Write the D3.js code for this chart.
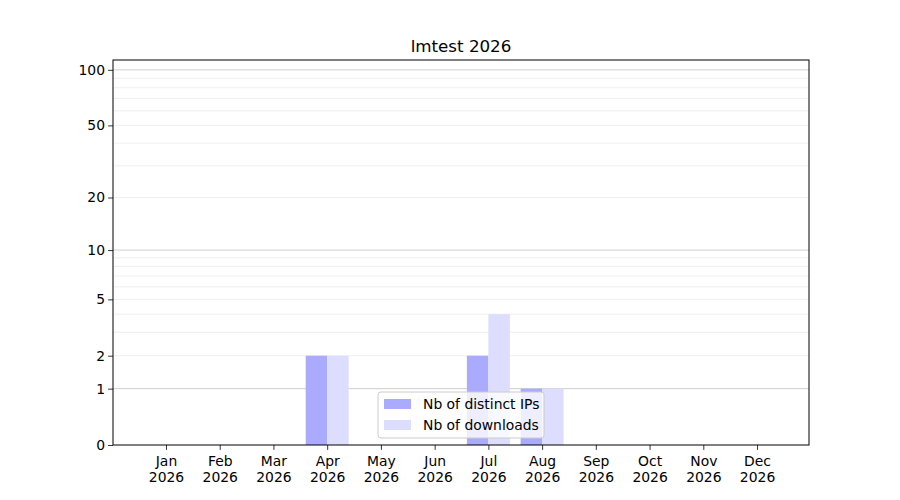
<!DOCTYPE html>
<html>
<head>
<meta charset="utf-8">
<script src="https://cdn.jsdelivr.net/npm/d3@7"></script>
<style>
  body { margin: 0; background: #fff; }
  svg text { font-family: 'DejaVu Sans', sans-serif; }
</style>
</head>
<body>
<div id="chart"></div>
<script>
// Monthly stats, symlog y axis (log1p)
var months = ['Jan', 'Feb', 'Mar', 'Apr', 'May', 'Jun', 'Jul', 'Aug', 'Sep', 'Oct', 'Nov', 'Dec'];
var year = '2026';
var distinctIPs = [0, 0, 0, 2, 0, 0, 2, 1, 0, 0, 0, 0];
var downloads   = [0, 0, 0, 2, 0, 0, 4, 1, 0, 0, 0, 0];
var yTickValues = [0, 1, 2, 5, 10, 20, 50, 100];
var majorGrid = [1, 10, 100];
var minorGrid = [2, 3, 4, 5, 6, 7, 8, 9, 20, 30, 40, 50, 60, 70, 80, 90];
var seriesNames = ['Nb of distinct IPs', 'Nb of downloads'];
var seriesColors = ['#aaaaff', '#ddddff'];
var title = 'lmtest 2026';

(function () {
    var W = 900, H = 500;
    var margin = { top: 60, right: 91, bottom: 55, left: 113 };
    var innerW = W - margin.left - margin.right;
    var innerH = H - margin.top - margin.bottom;
    var fs = 13.9;

    var svg = d3.select('#chart').append('svg')
        .attr('width', W).attr('height', H);

    var g = svg.append('g')
        .attr('transform', 'translate(' + margin.left + ',' + margin.top + ')');

    var x = d3.scaleLinear().domain([-0.986, 11.967]).range([0, innerW]);
    var y = d3.scaleSymlog().constant(1).domain([0, 113]).range([innerH, 0]);
    var step = x(1) - x(0);
    var bw = step * 0.4;

    // gridlines
    g.append('g').selectAll('line').data(minorGrid).join('line')
        .attr('x1', 0).attr('x2', innerW)
        .attr('y1', function (d) { return y(d); })
        .attr('y2', function (d) { return y(d); })
        .attr('stroke', '#ebebeb').attr('stroke-width', 0.8);
    g.append('g').selectAll('line').data(majorGrid).join('line')
        .attr('x1', 0).attr('x2', innerW)
        .attr('y1', function (d) { return y(d); })
        .attr('y2', function (d) { return y(d); })
        .attr('stroke', '#cfcfcf').attr('stroke-width', 1);

    // bars
    var idx = d3.range(months.length);
    g.append('g').selectAll('rect').data(idx.filter(function (i) { return distinctIPs[i] > 0; }))
        .join('rect')
        .attr('x', function (i) { return x(i) - bw; })
        .attr('width', bw)
        .attr('y', function (i) { return y(distinctIPs[i]); })
        .attr('height', function (i) { return y(0) - y(distinctIPs[i]); })
        .attr('fill', seriesColors[0]);
    g.append('g').selectAll('rect').data(idx.filter(function (i) { return downloads[i] > 0; }))
        .join('rect')
        .attr('x', function (i) { return x(i); })
        .attr('width', bw)
        .attr('y', function (i) { return y(downloads[i]); })
        .attr('height', function (i) { return y(0) - y(downloads[i]); })
        .attr('fill', seriesColors[1]);

    // axes
    var xAxis = d3.axisBottom(x).tickValues(idx).tickSize(4.9).tickSizeOuter(0).tickFormat('');
    var xg = g.append('g').attr('transform', 'translate(0,' + innerH + ')').call(xAxis);
    xg.select('.domain').remove();
    xg.selectAll('line').attr('stroke', '#000').attr('stroke-width', 0.8);
    xg.selectAll('.tick').each(function (d) {
        var t = d3.select(this).append('text')
            .attr('fill', '#000').attr('font-size', fs).attr('text-anchor', 'middle');
        t.append('tspan').attr('x', 0).attr('y', 21).text(months[d]);
        t.append('tspan').attr('x', 0).attr('y', 37).text(year);
    });

    var yAxis = d3.axisLeft(y).tickValues(yTickValues).tickSize(4.9).tickSizeOuter(0)
        .tickFormat(d3.format('d'));
    var yg = g.append('g').call(yAxis);
    yg.select('.domain').remove();
    yg.selectAll('line').attr('stroke', '#000').attr('stroke-width', 0.8);
    yg.selectAll('text').attr('fill', '#000').attr('font-size', fs)
        .attr('font-family', "'DejaVu Sans', sans-serif").attr('x', -8);

    g.append('rect')
        .attr('x', 0).attr('y', 0).attr('width', innerW).attr('height', innerH)
        .attr('fill', 'none').attr('stroke', '#000').attr('stroke-width', 1);

    // title
    svg.append('text')
        .attr('x', margin.left + innerW / 2).attr('y', margin.top - 8)
        .attr('text-anchor', 'middle').attr('font-size', 16.7).attr('fill', '#000')
        .text(title);

    // legend
    var lg = svg.append('g').attr('transform', 'translate(378,392)');
    lg.append('rect').attr('width', 166).attr('height', 46).attr('rx', 3)
        .attr('fill', 'rgba(255,255,255,0.8)').attr('stroke', '#cccccc');
    seriesNames.forEach(function (name, i) {
        lg.append('rect').attr('x', 6).attr('y', 7 + i * 21)
            .attr('width', 27).attr('height', 10).attr('fill', seriesColors[i]);
        lg.append('text').attr('x', 45).attr('y', 17 + i * 21)
            .attr('font-size', fs).attr('fill', '#000').text(name);
    });
})();
</script>
</body>
</html>
